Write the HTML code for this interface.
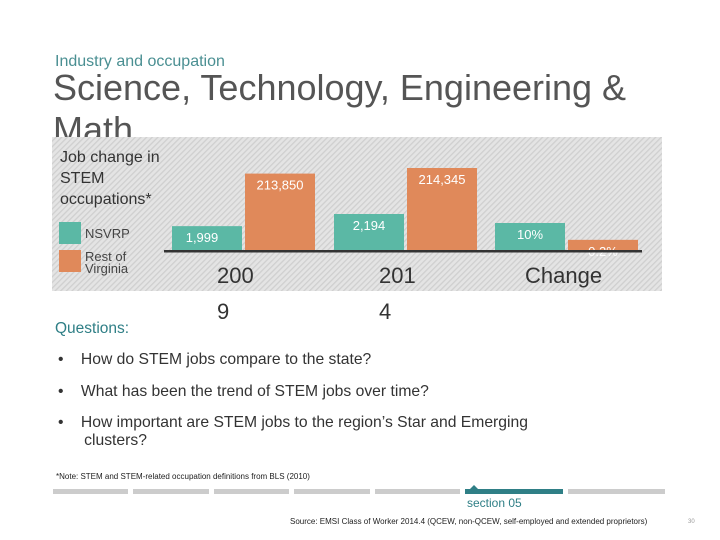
<!DOCTYPE html>
<html><head><meta charset="utf-8">
<style>
body{margin:0;background:#fff;}
#page{position:relative;width:720px;height:540px;overflow:hidden;background:#fff;font-family:"Liberation Sans",sans-serif;}
.t{position:absolute;white-space:nowrap;}
</style></head>
<body>
<div id="page">
<div class="t" style="left:55px;top:53px;font-size:16px;color:#4a8f92;">Industry and occupation</div>
<div class="t" style="left:53px;top:67px;font-size:36px;line-height:42px;color:#555;white-space:normal;width:600px;">Science, Technology, Engineering &amp; Math</div>
<svg id="chart" width="720" height="540" style="position:absolute;left:0;top:0">
<defs><pattern id="hatch" width="4" height="4" patternUnits="userSpaceOnUse" patternTransform="rotate(45)"><rect width="4" height="4" fill="#e4e4e4"/><rect width="1.3" height="4" fill="#cfcfcf"/></pattern></defs>
<rect x="52" y="137" width="610" height="154" fill="url(#hatch)"/>
<text x="60" y="162" font-size="16" fill="#333" font-family="Liberation Sans">Job change in</text>
<text x="60" y="183" font-size="16" fill="#333" font-family="Liberation Sans">STEM</text>
<text x="60" y="204" font-size="16" fill="#333" font-family="Liberation Sans">occupations*</text>
<rect x="59" y="222" width="22" height="22" fill="#5bb8a5"/>
<text x="85" y="238" font-size="13" fill="#444" font-family="Liberation Sans">NSVRP</text>
<rect x="59" y="250" width="22" height="22" fill="#e0895a"/>
<text x="85" y="261" font-size="13" fill="#444" font-family="Liberation Sans">Rest of</text>
<text x="85" y="273" font-size="13" fill="#444" font-family="Liberation Sans">Virginia</text>
<g id="bars"></g>
</svg>
<div class="t" style="left:55px;top:320px;font-size:15.5px;color:#2f7f86;">Questions:</div>
<div class="t" style="left:58px;top:351px;font-size:15.7px;color:#333;">•&nbsp;&nbsp;&nbsp;&nbsp;How do STEM jobs compare to the state?</div>
<div class="t" style="left:58px;top:383px;font-size:15.7px;color:#333;">•&nbsp;&nbsp;&nbsp;&nbsp;What has been the trend of STEM jobs over time?</div>
<div class="t" style="left:58px;top:414px;font-size:15.7px;color:#333;line-height:18px;">•&nbsp;&nbsp;&nbsp;&nbsp;How important are STEM jobs to the region’s Star and Emerging<br>&nbsp;&nbsp;&nbsp;&nbsp;&nbsp;&nbsp;clusters?</div>
<div class="t" style="left:56px;top:472px;font-size:8px;color:#222;">*Note: STEM and STEM-related occupation definitions from BLS (2010)</div>
<div style="position:absolute;left:53px;top:489px;width:75px;height:5px;background:#ccc"></div>
<div style="position:absolute;left:133px;top:489px;width:76px;height:5px;background:#ccc"></div>
<div style="position:absolute;left:214px;top:489px;width:75px;height:5px;background:#ccc"></div>
<div style="position:absolute;left:294px;top:489px;width:76px;height:5px;background:#ccc"></div>
<div style="position:absolute;left:465px;top:489px;width:98px;height:5px;background:#2f7f86"></div>
<div style="position:absolute;left:375px;top:489px;width:85px;height:5px;background:#ccc"></div>
<div style="position:absolute;left:568px;top:489px;width:97px;height:5px;background:#ccc"></div>
<div style="position:absolute;left:470px;top:485px;width:0;height:0;border-left:4px solid transparent;border-right:4px solid transparent;border-bottom:4px solid #2f7f86"></div>
<div class="t" style="left:467px;top:496px;font-size:12px;color:#2f7f86;">section 05</div>
<div class="t" style="left:290px;top:517px;font-size:8px;color:#222;">Source: EMSI Class of Worker 2014.4 (QCEW, non-QCEW, self-employed and extended proprietors)</div>
<div class="t" style="left:688px;top:519px;font-size:6px;color:#999;">30</div>
</div>
<script>
const categories = ["2009", "2014", "Change"];
const nsvrpValues = [1999, 2194, 10];
const restValues = [213850, 214345, 0.2];
const nsvrpLabels = ["1,999", "2,194", "10%"];
const restLabels = ["213,850", "214,345", "0.2%"];
const axisLabelLines = [["200","9"],["201","4"],["Change",""]];

const baseY = 251;
const groupX = [172, 334, 495];
const barW = 70, gap = 3;
function hPct(v){ return (v+5)/15*28; }
function hNsvrp(v, i){ return i===2 ? hPct(v) : (v-1600)/(2194-1600)*37; }
function hRest(v, i){ return i===2 ? hPct(v)*1.15 : (v-207000)/(214345-207000)*83; }
const NS="http://www.w3.org/2000/svg";
const g=document.getElementById('bars');
function mk(tag, attrs){const e=document.createElementNS(NS,tag);for(const k in attrs)e.setAttribute(k,attrs[k]);g.appendChild(e);return e;}
categories.forEach((c,i)=>{
  const x1=groupX[i], x2=x1+barW+gap;
  const h1=hNsvrp(nsvrpValues[i],i), h2=hRest(restValues[i],i);
  const b1=mk('rect',{x:x1,y:baseY-h1,width:barW,height:h1,fill:'#5bb8a5'});
  
  
  const b2=mk('rect',{x:x2,y:baseY-h2,width:barW,height:h2,fill:'#e0895a'});
  
  
  const l1=mk('text',{x:x1+barW/2-(i===0?5:0),y:baseY-h1+16,'font-size':13,fill:'#fff','text-anchor':'middle','font-family':'Liberation Sans'});
  l1.textContent=nsvrpLabels[i];
  
  
  const l2=mk('text',{x:x2+barW/2,y:baseY-h2+16,'font-size':13,fill:'#fff','text-anchor':'middle','font-family':'Liberation Sans'});
  l2.textContent=restLabels[i];
  
  
  const ax=mk('text',{x:i===2?525:x1+45,y:283,'font-size':22,fill:'#333','font-family':'Liberation Sans'});
  ax.textContent=axisLabelLines[i][0];
  
  
  if(axisLabelLines[i][1]){
    const ax2=mk('text',{x:x1+45,y:319,'font-size':22,fill:'#333','font-family':'Liberation Sans'});
    ax2.textContent=axisLabelLines[i][1];
    
    
  }
});
const bl=mk('rect',{x:164,y:250,width:478,height:2.5,fill:'#333'});


</script>
</body></html>
